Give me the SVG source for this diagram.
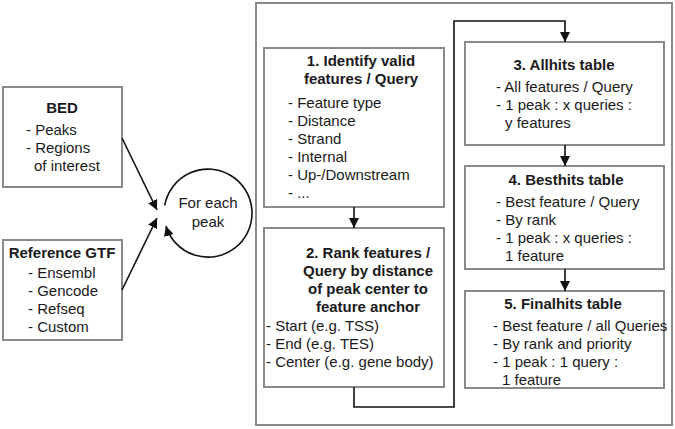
<svg xmlns="http://www.w3.org/2000/svg" width="675" height="429" viewBox="0 0 675 429">
<defs>
<style>
.box{fill:#fff;stroke:#8a8a8a;stroke-width:2}
.t{font-family:"Liberation Sans",Arial,sans-serif;font-size:15px;fill:#1a1a1a}
.b{font-weight:bold;text-anchor:middle}
.c{text-anchor:middle}
.ln{fill:none;stroke:#111;stroke-width:1.6}
</style>
<marker id="ah" viewBox="0 0 10 10" refX="10" refY="5" markerWidth="10" markerHeight="10" markerUnits="userSpaceOnUse" orient="auto">
<path d="M0,0 L10,5 L0,10 Z" fill="#111"/>
</marker>
</defs>
<rect width="675" height="429" fill="#fff"/>
<rect id="outer" class="box" x="256" y="3" width="416" height="422"/>

<g id="bed">
<rect class="box" x="3" y="87" width="119" height="100"/>
<text class="t b" x="62" y="113">BED</text>
<text class="t" x="26" y="135">- Peaks</text>
<text class="t" x="26" y="153">- Regions</text>
<text class="t" x="34" y="171">of interest</text>
</g>

<g id="gtf">
<rect class="box" x="3" y="240" width="119" height="100"/>
<text class="t b" x="62" y="258">Reference GTF</text>
<text class="t" x="28" y="278">- Ensembl</text>
<text class="t" x="28" y="296">- Gencode</text>
<text class="t" x="28" y="314">- Refseq</text>
<text class="t" x="28" y="332">- Custom</text>
</g>

<g id="loop">
<path class="ln" d="M164.7,205.4 A44,44 0 1 1 165.9,225.9" marker-end="url(#ah)"/>
<text class="t c" x="208" y="208">For each</text>
<text class="t c" x="208" y="227">peak</text>
</g>

<g id="step1">
<rect class="box" x="264" y="48" width="180" height="159"/>
<text class="t b" x="361" y="66">1. Identify valid</text>
<text class="t b" x="361" y="84">features / Query</text>
<text class="t" x="288" y="108">- Feature type</text>
<text class="t" x="288" y="126">- Distance</text>
<text class="t" x="288" y="144">- Strand</text>
<text class="t" x="288" y="162">- Internal</text>
<text class="t" x="288" y="180">- Up-/Downstream</text>
<text class="t" x="288" y="198">- ...</text>
</g>

<g id="step2">
<rect class="box" x="264" y="228" width="180" height="159"/>
<text class="t b" x="368" y="258">2. Rank features /</text>
<text class="t b" x="368" y="276">Query by distance</text>
<text class="t b" x="368" y="294">of peak center to</text>
<text class="t b" x="368" y="312">feature anchor</text>
<text class="t" x="266" y="331">- Start (e.g. TSS)</text>
<text class="t" x="266" y="349">- End (e.g. TES)</text>
<text class="t" x="266" y="367">- Center (e.g. gene body)</text>
</g>

<g id="step3">
<rect class="box" x="465" y="42" width="199" height="103"/>
<text class="t b" x="564" y="70">3. Allhits table</text>
<text class="t" x="496" y="92">- All features / Query</text>
<text class="t" x="496" y="110">- 1 peak : x queries :</text>
<text class="t" x="505" y="128">y features</text>
</g>

<g id="step4">
<rect class="box" x="465" y="166" width="199" height="103"/>
<text class="t b" x="566" y="185">4. Besthits table</text>
<text class="t" x="496" y="207">- Best feature / Query</text>
<text class="t" x="496" y="225">- By rank</text>
<text class="t" x="496" y="243">- 1 peak : x queries :</text>
<text class="t" x="505" y="261">1 feature</text>
</g>

<g id="step5">
<rect class="box" x="465" y="291" width="199" height="97"/>
<text class="t b" x="563" y="309">5. Finalhits table</text>
<text class="t" x="493" y="331">- Best feature / all Queries</text>
<text class="t" x="493" y="349">- By rank and priority</text>
<text class="t" x="493" y="367">- 1 peak : 1 query :</text>
<text class="t" x="502" y="385">1 feature</text>
</g>

<g id="connectors">
<line class="ln" x1="122" y1="138" x2="157" y2="210" marker-end="url(#ah)"/>
<line class="ln" x1="122" y1="290" x2="157" y2="218" marker-end="url(#ah)"/>
<line class="ln" x1="354" y1="207" x2="354" y2="228" marker-end="url(#ah)"/>
<path class="ln" d="M354,387 V407 H454 V21 H565 V42" marker-end="url(#ah)"/>
<line class="ln" x1="565" y1="145" x2="565" y2="166" marker-end="url(#ah)"/>
<line class="ln" x1="565" y1="269" x2="565" y2="291" marker-end="url(#ah)"/>
</g>
</svg>
